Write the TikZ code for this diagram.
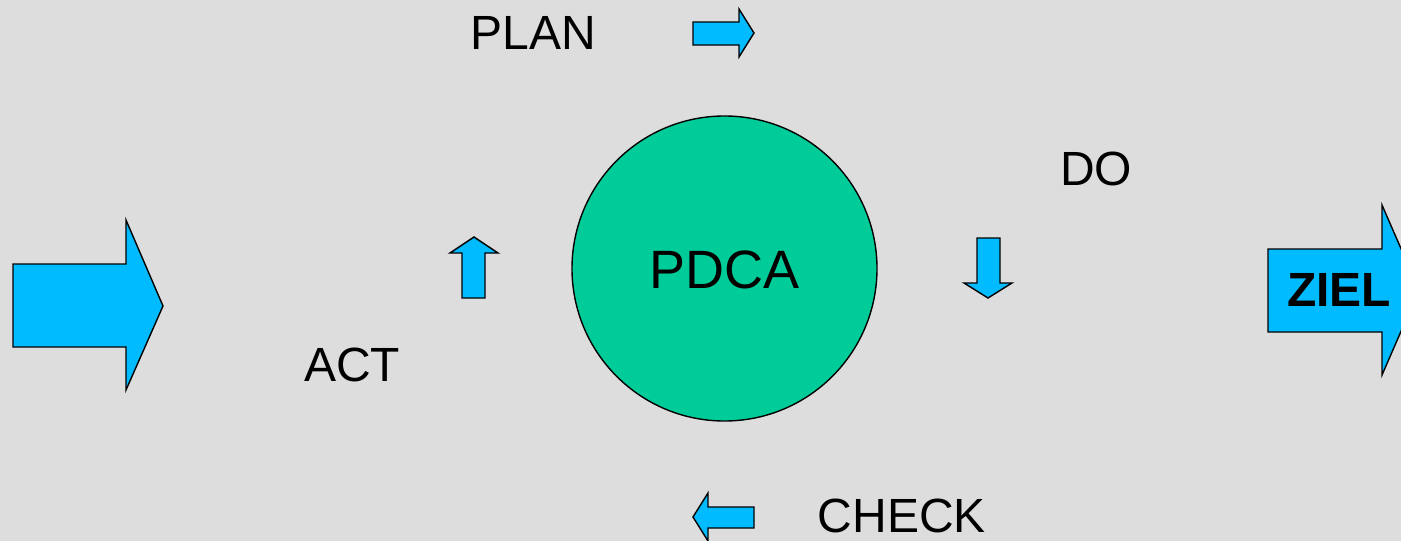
\documentclass[tikz,border=0pt]{standalone}
\usepackage{fontspec}
\setmainfont{Liberation Sans}
\definecolor{bg}{HTML}{DDDDDD}
\definecolor{arrowblue}{HTML}{00BBFF}
\definecolor{circgreen}{HTML}{00CC99}
\tikzset{
  blockarrow/.style={draw=black, fill=arrowblue, line width=1.4pt, line join=miter},
  lbl/.style={font=\fontsize{48}{52}\selectfont, inner sep=0pt, anchor=center},
}
\begin{document}
\begin{tikzpicture}[x=1pt,y=-1pt]
\fill[bg] (0,0) rectangle (1401,541);
\useasboundingbox (0,0) rectangle (1401,541);
\begin{scope}
\clip (0,0) rectangle (1401,541);
% big input arrow
\draw[blockarrow] (13,264) -- (126,264) -- (126,220) -- (163,306) -- (126,390) -- (126,347) -- (13,347) -- cycle;
% ZIEL arrow
\draw[blockarrow] (1268,249) -- (1382,249) -- (1382,205) -- (1419,290) -- (1382,375) -- (1382,332) -- (1268,332) -- cycle;
% PLAN arrow (right)
\draw[blockarrow] (693,22) -- (739,22) -- (739,9) -- (754,33) -- (739,57) -- (739,45) -- (693,45) -- cycle;
% DO arrow (down)
\draw[blockarrow] (977,238) -- (1000,238) -- (1000,283) -- (1012,283) -- (988,298) -- (964,283) -- (977,283) -- cycle;
% CHECK arrow (left)
\draw[blockarrow] (754,507) -- (708,507) -- (708,493) -- (693,517) -- (708,541) -- (708,528) -- (754,528) -- cycle;
% ACT arrow (up)
\draw[blockarrow] (462,298) -- (462,253) -- (450,253) -- (474,237) -- (498,253) -- (485,253) -- (485,298) -- cycle;
\end{scope}
% circle
\node[circle, draw=black, fill=circgreen, line width=1.4pt, minimum size=305pt, inner sep=0pt] (pdca) at (724.5,268.5) {};
\node[lbl, font=\fontsize{54}{58}\selectfont] (pdcat) at (724.5,270) {PDCA};
\node[lbl] (plan) at (533,33) {PLAN};
\node[lbl] (do) at (1096,169) {DO};
\node[lbl] (act) at (352,365) {ACT};
\node[lbl] (check) at (902,516) {CHECK};
\node[lbl, font=\fontsize{48}{52}\selectfont\bfseries] (ziel) at (1339,290) {ZIEL};
\end{tikzpicture}
\end{document}
